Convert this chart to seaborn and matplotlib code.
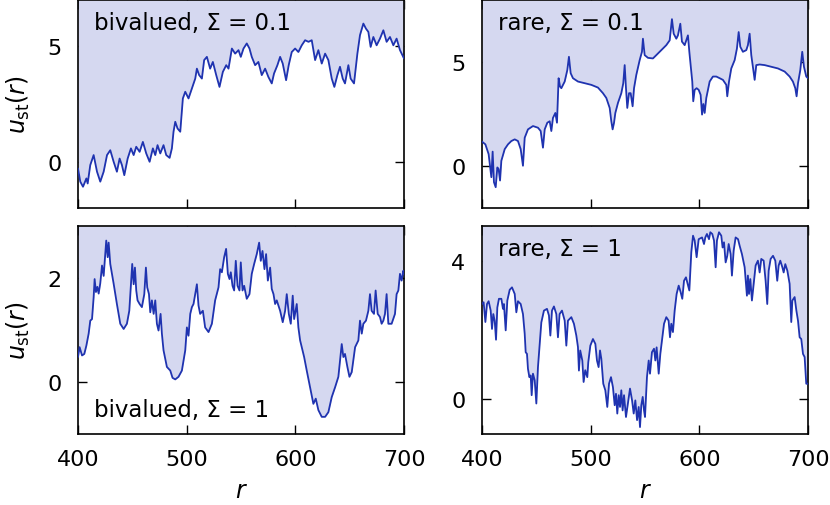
import numpy as np
import matplotlib
matplotlib.use("Agg")
import matplotlib.pyplot as plt
import seaborn as sns

# ------------------------------------------------------------
# DATA
# ------------------------------------------------------------
r_biv01 = [400.0, 402.1, 404.6, 407.7, 408.9, 411.3, 414.4, 417.5, 420.5, 423.6,
           426.7, 429.7, 432.8, 435.8, 438.3, 440.4, 442.6, 445.7, 448.7, 451.2,
           453.6, 456.7, 459.7, 462.8, 465.9, 468.9, 471.1, 473.2, 475.7, 478.7,
           481.2, 484.3, 486.4, 487.9, 489.5, 491.6, 494.1, 496.5, 498.7, 501.7,
           504.8, 507.9, 509.4, 511.5, 514.0, 516.1, 518.6, 521.6, 524.1, 527.2,
           530.2, 533.3, 536.4, 538.5, 541.6, 544.6, 547.7, 549.8, 552.3, 555.3,
           557.8, 559.9, 563.0, 566.0, 569.1, 572.2, 575.2, 578.3, 580.4, 583.5,
           586.0, 588.4, 591.5, 593.9, 596.7, 599.8, 602.8, 605.9, 609.0, 612.1,
           615.1, 618.2, 621.2, 624.3, 627.4, 630.4, 633.5, 635.9, 638.7, 641.1,
           643.6, 645.7, 648.8, 650.9, 654.0, 657.1, 659.5, 662.6, 665.0, 667.2,
           669.3, 671.8, 674.8, 677.9, 681.0, 684.0, 687.1, 690.2, 693.2, 696.3,
           700.0]
u_biv01 = [-0.29, -0.86, -1.08, -0.72, -0.94, -0.14, 0.29, -0.43, -0.86, -0.43,
           0.29, 0.50, 0.00, -0.43, 0.14, -0.14, -0.58, 0.14, 0.58, 0.29,
           0.65, 0.43, 0.86, 0.36, 0.00, 0.58, 0.29, 0.72, 0.36, 0.72,
           0.29, 0.17, 0.58, 1.30, 1.73, 1.44, 1.30, 2.74, 3.03, 2.74,
           3.17, 3.60, 4.03, 3.75, 3.60, 4.40, 4.54, 4.03, 4.32, 3.75,
           3.24, 3.89, 4.18, 4.03, 4.90, 4.68, 4.83, 4.54, 4.90, 5.12,
           4.90, 4.54, 4.18, 4.32, 3.75, 4.03, 3.67, 3.39, 3.82, 4.18,
           4.54, 4.25, 3.53, 4.18, 4.75, 4.90, 4.75, 5.04, 5.26, 5.19,
           5.26, 4.40, 4.83, 4.25, 4.68, 4.40, 3.60, 3.24, 3.75, 4.11,
           3.60, 3.39, 4.18, 3.60, 3.39, 4.68, 5.48, 5.98, 5.76, 5.62,
           4.97, 5.40, 5.04, 5.33, 5.69, 5.19, 5.40, 5.04, 5.33, 4.83,
           4.47]

r_rare01 = [400.0, 403.1, 406.1, 408.6, 409.8, 411.0, 412.6, 414.1, 415.3, 416.6,
            417.8, 420.9, 423.9, 427.0, 430.1, 433.1, 435.6, 437.7, 439.3, 442.3,
            446.9, 451.5, 454.0, 456.1, 457.7, 460.1, 462.3, 463.8, 465.3, 467.5,
            469.0, 470.5, 471.8, 473.0, 476.1, 478.5, 480.0, 481.6, 483.7, 488.3,
            494.5, 500.6, 506.7, 511.3, 514.4, 517.5, 519.0, 520.2, 521.5, 522.7,
            525.1, 528.2, 530.0, 531.3, 532.5, 533.7, 535.3, 536.8, 538.6, 539.9,
            542.0, 545.1, 547.2, 548.1, 549.7, 552.7, 557.3, 560.4, 565.0, 569.6,
            572.7, 574.8, 576.4, 578.8, 580.3, 582.5, 584.0, 586.5, 589.5, 590.8,
            592.0, 593.5, 594.4, 595.7, 597.5, 599.4, 601.2, 602.5, 603.7, 604.9,
            606.4, 609.5, 612.5, 615.6, 618.7, 621.7, 624.8, 625.7, 627.3, 629.4,
            632.5, 634.6, 636.2, 637.7, 640.1, 643.2, 644.7, 646.3, 647.8, 649.7,
            650.9, 652.4, 655.5, 660.1, 666.2, 672.3, 678.5, 683.1, 686.1, 688.3,
            689.5, 690.8, 692.9, 694.7, 696.3, 698.4, 700.0]
u_rare01 = [1.19, 1.06, 0.59, -0.52, 0.71, -0.76, -1.00, -0.05, -0.13, -0.68,
            0.27, 0.83, 1.06, 1.22, 1.30, 1.22, 0.83, 0.03, 1.38, 1.78,
            1.94, 1.86, 1.70, 0.90, 1.78, 2.10, 2.17, 1.70, 2.33, 2.57,
            2.10, 4.24, 3.84, 3.76, 4.08, 4.63, 5.27, 4.48, 4.24, 4.08,
            4.00, 3.92, 3.79, 3.52, 3.29, 2.81, 2.17, 1.78, 2.10, 2.57,
            3.05, 3.52, 4.00, 4.87, 3.76, 2.81, 3.52, 3.52, 2.89, 3.76,
            4.40, 5.11, 5.51, 6.14, 5.35, 5.22, 5.19, 5.35, 5.59, 5.83,
            6.06, 7.08, 6.38, 6.14, 6.30, 6.86, 6.00, 5.83, 6.30, 5.51,
            4.87, 4.08, 3.13, 3.68, 3.76, 3.68, 3.44, 2.49, 3.00, 2.57,
            3.29, 4.08, 4.32, 4.32, 4.24, 4.16, 3.92, 3.37, 4.08, 4.71,
            5.11, 5.67, 6.46, 5.75, 5.51, 5.59, 5.83, 6.38, 5.35, 4.63,
            4.16, 4.87, 4.90, 4.87, 4.79, 4.71, 4.56, 4.32, 4.08, 3.76,
            3.37, 4.00, 4.63, 5.51, 4.79, 4.32, 4.24]

r_biv1 = [400.0, 401.5, 403.7, 405.8, 407.7, 409.8, 411.3, 412.9, 414.4, 415.3,
          416.5, 417.8, 419.0, 420.5, 422.1, 423.6, 425.1, 426.0, 427.3, 428.2,
          429.7, 432.8, 435.8, 438.9, 442.0, 445.0, 447.2, 449.0, 449.9, 451.2,
          452.4, 453.6, 454.8, 456.7, 458.8, 461.0, 462.5, 463.7, 465.3, 466.5,
          468.0, 469.6, 471.1, 472.6, 474.1, 476.0, 477.2, 478.7, 481.8, 484.9,
          487.0, 489.5, 492.5, 495.6, 498.7, 500.2, 501.7, 503.3, 504.8, 506.3,
          507.9, 509.4, 510.9, 512.4, 514.9, 517.0, 520.1, 523.2, 526.2, 529.3,
          530.8, 532.4, 534.5, 536.3, 537.9, 539.4, 540.6, 542.2, 543.7, 545.2,
          546.8, 548.6, 549.8, 551.4, 552.9, 555.3, 557.8, 559.9, 562.1, 564.5,
          566.7, 568.2, 569.8, 571.6, 573.1, 574.7, 576.8, 578.3, 579.9, 581.4,
          582.9, 586.0, 588.4, 590.6, 592.1, 594.0, 595.8, 597.6, 598.9, 601.3,
          602.8, 604.4, 605.9, 608.1, 610.5, 613.6, 616.6, 618.8, 621.2, 624.3,
          627.4, 630.4, 633.5, 636.6, 639.6, 641.8, 642.7, 644.2, 645.7, 647.9,
          649.8, 651.9, 655.0, 658.0, 659.5, 661.1, 662.6, 665.0, 667.2, 668.7,
          670.2, 672.4, 673.9, 675.8, 677.9, 679.4, 681.0, 682.5, 684.0, 685.6,
          688.6, 691.7, 693.2, 694.8, 696.3, 697.8, 699.4, 700.0]
u_biv1 = [0.48, 0.67, 0.51, 0.54, 0.70, 0.93, 1.18, 1.21, 1.63, 1.98,
          1.73, 1.83, 1.70, 1.90, 2.24, 2.04, 2.46, 2.72, 2.40, 2.68,
          2.27, 1.89, 1.50, 1.12, 1.02, 1.12, 1.37, 1.95, 2.27, 1.88,
          2.20, 1.76, 1.57, 1.50, 1.44, 1.69, 2.20, 1.82, 1.69, 1.34,
          1.57, 1.31, 1.57, 1.12, 0.99, 1.31, 0.93, 0.61, 0.29, 0.22,
          0.08, 0.05, 0.10, 0.22, 0.61, 1.05, 0.89, 1.31, 1.44, 1.50,
          1.69, 1.88, 1.47, 1.31, 1.37, 1.05, 0.96, 1.12, 1.57, 1.82,
          2.17, 2.11, 2.40, 2.56, 2.08, 1.98, 2.11, 1.85, 1.76, 2.33,
          1.85, 1.76, 2.30, 1.76, 1.85, 1.60, 1.69, 2.08, 2.27, 2.46,
          2.68, 2.33, 2.52, 2.17, 2.46, 1.95, 2.20, 1.79, 1.69, 1.50,
          1.57, 1.37, 1.15, 1.37, 1.69, 1.31, 1.12, 1.66, 1.21, 1.50,
          1.05, 0.80, 0.67, 0.48, 0.22, -0.10, -0.42, -0.32, -0.54, -0.67,
          -0.67, -0.58, -0.29, -0.10, 0.10, 0.54, 0.73, 0.48, 0.54, 0.29,
          0.10, 0.19, 0.67, 0.80, 1.18, 0.93, 1.12, 1.18, 1.37, 1.69,
          1.37, 1.31, 1.76, 1.31, 1.25, 1.12, 1.18, 1.31, 1.69, 1.12,
          1.12, 1.31, 1.69, 1.76, 2.08, 1.95, 2.14, 2.08]

r_rare1 = [400.0, 401.5, 403.1, 404.6, 406.1, 408.0, 409.2, 410.4, 411.7, 412.9,
           414.1, 415.6, 417.8, 419.3, 420.2, 421.8, 423.3, 425.5, 427.6, 430.1,
           431.6, 433.1, 435.6, 437.7, 439.3, 440.2, 441.4, 442.3, 443.6, 444.8,
           445.7, 446.9, 448.5, 450.0, 451.5, 453.1, 454.6, 457.0, 459.8, 461.6,
           462.9, 464.4, 466.2, 468.4, 469.9, 471.4, 473.6, 476.1, 477.6, 479.1,
           482.2, 484.6, 486.8, 488.3, 489.2, 490.4, 492.3, 493.5, 495.0, 496.9,
           497.8, 499.7, 502.1, 504.3, 505.8, 507.3, 508.6, 509.8, 511.6, 513.5,
           515.3, 516.9, 518.7, 520.5, 522.1, 523.3, 524.5, 525.8, 527.0, 528.2,
           529.4, 530.7, 532.5, 534.4, 536.2, 538.1, 539.6, 541.1, 542.7, 544.2,
           545.4, 546.6, 547.9, 549.1, 550.0, 551.8, 553.4, 554.6, 556.4, 558.3,
           559.5, 560.7, 562.6, 564.1, 565.6, 567.5, 569.6, 571.7, 573.0, 574.2,
           575.7, 577.3, 579.1, 581.0, 582.8, 584.3, 585.9, 587.7, 589.6, 590.8,
           592.6, 594.2, 595.7, 597.5, 599.4, 602.5, 604.3, 605.5, 607.0, 608.9,
           610.1, 611.9, 613.5, 615.0, 616.2, 618.1, 620.2, 621.4, 622.7, 624.2,
           625.7, 627.0, 628.8, 630.0, 631.6, 633.4, 635.6, 637.1, 639.2, 641.7,
           643.8, 644.7, 645.7, 646.9, 648.4, 650.3, 651.8, 653.9, 655.5, 657.0,
           659.2, 661.0, 662.5, 663.8, 665.6, 667.8, 669.9, 671.7, 673.0, 674.5,
           676.4, 677.6, 679.1, 681.0, 683.1, 684.6, 685.6, 687.7, 689.3, 690.8,
           692.3, 693.8, 695.4, 696.9, 698.4, 700.0]
u_rare1 = [2.75, 2.80, 2.23, 2.75, 2.83, 2.56, 2.03, 2.46, 2.26, 1.72,
           2.65, 2.90, 2.90, 2.61, 2.75, 1.99, 2.85, 3.16, 3.23, 3.04,
           2.51, 2.83, 2.75, 2.46, 1.89, 1.36, 1.31, 0.88, 0.64, 0.69,
           0.12, 0.74, 0.55, -0.12, 0.93, 1.60, 2.22, 2.56, 2.61, 2.42,
           1.84, 2.56, 2.68, 2.46, 1.79, 2.46, 2.56, 2.27, 1.55, 2.27,
           2.37, 2.18, 1.84, 1.51, 0.83, 1.41, 1.12, 0.50, 0.84, 0.64,
           1.07, 1.55, 1.74, 1.60, 1.12, 0.93, 1.41, 1.17, 0.45, 0.26,
           -0.22, 0.45, 0.64, 0.35, -0.17, 0.16, -0.41, 0.12, -0.22, 0.26,
           -0.32, 0.12, -0.51, -0.08, 0.31, -0.03, -0.41, -0.03, -0.60, -0.22,
           -0.80, -0.17, 0.07, -0.32, -0.51, 0.64, 1.12, 0.74, 1.36, 1.46,
           1.12, 1.50, 0.74, 1.31, 1.70, 2.18, 2.37, 2.27, 1.79, 2.18,
           1.94, 2.56, 3.04, 3.28, 3.09, 2.90, 3.42, 3.52, 3.28, 3.14,
           4.24, 4.72, 4.58, 4.10, 4.62, 4.67, 4.48, 4.67, 4.77, 4.62,
           4.82, 4.77, 4.58, 3.81, 4.58, 4.82, 4.72, 4.38, 4.53, 3.95,
           4.14, 4.48, 4.19, 3.57, 4.29, 4.67, 4.62, 4.43, 4.19, 3.81,
           2.99, 3.57, 3.04, 3.47, 2.85, 3.42, 3.86, 4.00, 3.66, 4.05,
           4.00, 3.42, 2.75, 3.71, 4.05, 4.14, 4.00, 3.42, 3.86, 4.00,
           3.81, 3.66, 3.90, 3.71, 3.33, 2.23, 2.85, 2.95, 2.56, 2.27,
           1.79, 1.74, 1.31, 1.22, 0.45, 0.45]

labels = ["bivalued, Σ = 0.1", "rare, Σ = 0.1",
          "bivalued, Σ = 1", "rare, Σ = 1"]
ylims = [(-2, 7), (-2, 8), (-1, 3), (-1, 5)]
yticks = [[0, 5], [0, 5], [0, 2], [0, 4]]
xticks = [400, 500, 600, 700]

# ------------------------------------------------------------
# STYLE
# ------------------------------------------------------------
sns.set_theme(style="ticks")
plt.rcParams["font.family"] = ["DejaVu Sans"]
plt.rcParams["mathtext.fontset"] = "dejavusans"
plt.rcParams["text.color"] = "black"
plt.rcParams["axes.labelcolor"] = "black"
plt.rcParams["xtick.color"] = "black"
plt.rcParams["ytick.color"] = "black"

LINE = "#1f33b0"
FILL = "#d5d8f0"

fig = plt.figure(figsize=(8.3, 5.06), dpi=100)
boxes = [
    [78 / 830, 1 - 209 / 506, 326 / 830, 208 / 506],
    [482 / 830, 1 - 209 / 506, 326 / 830, 208 / 506],
    [78 / 830, 1 - 435 / 506, 326 / 830, 208 / 506],
    [482 / 830, 1 - 435 / 506, 326 / 830, 208 / 506],
]
series = [(r_biv01, u_biv01), (r_rare01, u_rare01), (r_biv1, u_biv1), (r_rare1, u_rare1)]
label_pos = [(0.05, 0.945, "top"), (0.05, 0.945, "top"),
             (0.05, 0.085, "baseline"), (0.05, 0.945, "top")]

for i, (box, (r, u)) in enumerate(zip(boxes, series)):
    ax = fig.add_axes(box)
    ax.set_axisbelow(True)
    lo, hi = ylims[i]
    ax.fill_between(r, u, hi, color=FILL, lw=0, zorder=1)
    sns.lineplot(x=r, y=u, ax=ax, color=LINE, linewidth=1.3, zorder=3)
    ax.set_xlim(400, 700)
    ax.set_ylim(lo, hi)
    ax.set_yticks(yticks[i])
    ax.set_xticks(xticks)
    ax.tick_params(direction="in", length=6.5, width=1, labelsize=16,
                   top=True, right=True)
    ax.tick_params(axis="y", pad=12)
    ax.tick_params(axis="x", pad=11)
    for s in ax.spines.values():
        s.set_linewidth(1.2)
        s.set_color("black")
    if i < 2:
        ax.set_xticklabels([])
    else:
        ax.set_xlabel("$r$", fontsize=17, labelpad=6)
    if i % 2 == 0:
        ax.set_ylabel("$u_{\\rm st}(r)$", fontsize=17, labelpad=11)
    else:
        ax.set_ylabel("")
    tx, ty, va = label_pos[i]
    ax.text(tx, ty, labels[i], transform=ax.transAxes, fontsize=16.5,
            ha="left", va=va, color="black", zorder=5)

fig.savefig("out.png", dpi=100)
